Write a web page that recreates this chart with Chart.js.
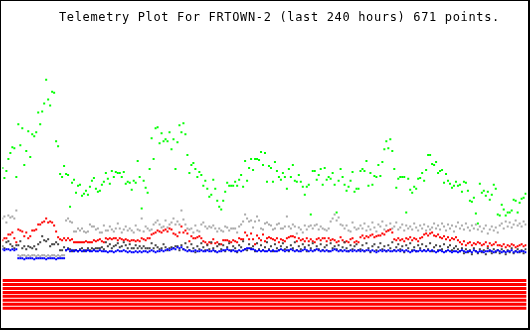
<!DOCTYPE html>
<html>
<head>
<meta charset="utf-8">
<script src="https://cdn.jsdelivr.net/npm/chart.js@4.4.1/dist/chart.umd.min.js"></script>
<style>
  html, body { margin: 0; padding: 0; background: #fff; }
  #frame {
    position: relative;
    width: 527px;
    height: 327px;
    border-style: solid;
    border-color: #000;
    border-width: 1px 2px 2px 1px;
  }
  #title {
    position: absolute;
    left: 58px;
    top: 10px;
    font: 12px "DejaVu Sans Mono", monospace;
    letter-spacing: 0.65px;
    line-height: 12px;
    white-space: nowrap;
    color: #000;
  }
  canvas { display: block; }
</style>
</head>
<body>
<div id="frame">
  <canvas id="chart" width="527" height="327"></canvas>
  <div id="title">Telemetry Plot For FRTOWN-2 (last 240 hours) 671 points.</div>
</div>
<script>
// last 240 hours, one reading slot every 2 px of the plot
const hoursSpan = 240;
const samples = 264;
const hours = Array.from({length: samples}, (_, i) => i * hoursSpan / (samples - 1));

// channel values
const green = [162,152,159,171,177,183,182,153,206,185,
  202,165,179,199,173,196,194,198,218,206,
  219,227,251,231,225,239,238,189,184,156,
  153,164,156,155,123,147,150,137,144,145,
  134,136,139,135,143,149,152,141,138,139,
  145,148,157,151,146,159,153,158,157,157,
  153,158,146,148,147,140,149,147,169,153,
  121,149,142,137,161,192,171,202,203,187,
  197,189,191,189,198,181,191,161,188,205,
  198,207,196,175,157,165,167,161,153,158,
  155,144,149,141,133,135,150,141,129,123,
  120,129,138,147,144,144,144,148,144,150,
  155,143,169,149,162,171,160,171,171,170,
  178,165,177,148,164,162,148,168,159,153,
  150,157,153,141,161,153,165,149,148,155,
  148,143,135,143,145,115,159,159,150,155,
  161,145,162,150,153,151,157,145,117,149,
  161,153,145,139,143,149,158,138,141,141,
  159,161,159,169,144,157,145,154,153,165,
  154,168,181,189,182,191,179,161,142,151,
  153,153,153,117,151,140,137,143,141,151,
  152,157,149,160,175,175,166,165,168,157,
  159,160,147,156,149,146,142,144,148,144,
  145,138,148,147,139,129,128,132,116,106,
  146,137,139,134,138,130,135,145,141,115,
  114,125,120,114,117,117,119,130,129,117,
  127,131,132,136];

const grey = [111,113,107,114,112,113,111,119,
  74,73,74,74,73,74,73,74,74,73,74,73,74,74,73,74,73,74,74,73,74,73,74,74,
  109,111,108,107,98,98,101,99,101,98,
  97,98,105,103,103,100,101,97,97,104,
  99,99,103,100,98,101,106,101,97,100,
  103,99,101,99,97,104,100,99,111,98,
  103,101,99,100,105,107,109,105,102,103,
  109,102,105,107,111,105,108,105,119,110,
  105,101,100,101,97,104,99,98,105,107,
  103,101,103,102,104,101,98,101,99,98,
  103,102,99,101,101,101,97,103,105,108,
  115,111,108,109,102,108,113,109,101,100,
  106,107,105,104,100,101,105,106,101,101,
  103,113,103,101,105,103,96,102,100,97,
  104,100,103,104,101,104,105,100,103,101,
  100,99,101,108,111,115,109,112,105,104,
  101,104,99,98,107,102,100,101,
  104,101,106,99,103,100,107,102,98,105,
  103,108,100,104,99,106,101,103,107,100,
  102,105,99,104,101,103,100,106,102,99,
  104,101,105,99,103,100,102,106,101,104,
  100,106,103,99,105,101,104,98,103,107,
  101,104,100,106,102,99,104,101,105,100,
  103,98,101,104,96,100,103,99,102,97,
  104,106,101,108,103,107,102,105,109,104,
  106,103,108,105];

const red = [89,91,91,95,95,97,91,87,100,99,
  98,93,97,91,93,99,99,100,105,105,
  107,108,111,107,108,107,104,98,92,90,
  89,91,89,91,89,90,87,87,87,87,
  87,87,88,87,87,87,89,88,89,90,
  88,87,91,90,91,90,91,91,89,91,
  90,89,90,89,88,89,89,88,89,88,
  91,90,89,91,91,95,96,97,99,98,
  97,99,100,98,101,100,96,95,93,97,
  103,97,99,96,88,93,91,91,92,93,
  91,88,87,85,87,86,90,86,87,85,
  85,89,89,89,88,87,89,88,87,91,
  90,90,97,94,90,96,90,85,94,91,
  89,95,88,91,92,91,90,89,91,87,
  90,89,88,91,92,93,93,92,88,91,
  89,90,88,91,88,90,88,87,90,91,
  89,91,91,88,91,89,90,89,87,88,
  92,89,87,88,87,90,91,87,88,87,
  92,94,91,93,92,94,95,92,93,94,
  94,96,95,98,99,100,97,90,89,91,
  89,90,88,91,90,92,89,91,90,88,
  91,92,95,96,94,96,97,94,93,95,
  92,91,93,90,92,89,91,90,92,89,
  87,85,88,84,86,87,84,86,85,87,
  86,84,85,87,83,86,84,85,87,84,
  84,83,85,82,84,83,85,84,82,83,
  84,85,83,84];

const darkGrey = [83,81,87,88,85,83,81,84,84,88,
  81,83,80,83,82,81,83,80,85,87,
  93,89,88,90,83,85,85,87,85,79,
  79,82,79,81,80,78,79,79,78,80,
  81,78,79,81,79,81,80,81,81,81,
  82,80,87,83,85,81,83,84,86,82,
  83,87,84,81,85,81,81,84,81,83,
  81,83,81,81,81,86,81,84,82,80,
  81,85,82,79,81,82,81,83,83,79,
  84,80,86,82,79,85,81,77,83,80,
  86,82,79,84,80,87,81,78,83,85,
  80,84,78,82,86,79,83,81,77,84,
  82,88,80,79,85,81,83,78,86,80,
  84,79,82,87,80,83,78,85,81,79,
  83,86,80,82,78,84,81,87,79,83,
  80,85,82,78,84,81,86,79,83,80,
  85,79,82,84,78,86,81,83,80,84,
  79,82,87,81,78,84,80,83,85,79,
  80,84,78,86,81,77,83,85,79,82,
  86,80,83,78,84,81,87,79,82,85,
  80,83,77,84,81,86,79,82,78,84,
  81,85,79,83,80,86,78,82,84,79,
  83,80,85,78,82,84,79,81,83,80,
  78,81,76,80,77,79,75,81,78,76,
  80,77,79,75,81,78,76,80,77,79,
  76,80,78,75,79,77,81,76,78,80,
  77,79,76,80];

const blue = [80,79,80,80,79,80,79,80,
  71,71,71,70,71,71,71,71,70,71,71,71,71,71,70,71,71,71,71,70,71,71,71,71,
  79,80,78,79,78,79,78,79,78,79,
  78,79,78,78,79,78,78,79,78,78,
  78,77,78,78,77,78,79,78,78,79,
  78,77,78,77,77,78,77,78,77,78,
  78,77,78,79,78,77,78,78,79,78,
  79,80,79,80,81,80,82,81,82,80,
  79,78,79,78,78,79,78,78,79,78,
  78,79,78,78,79,78,77,78,78,79,
  79,80,79,78,79,78,78,79,78,79,
  80,81,81,80,80,79,78,79,78,79,
  78,78,79,78,79,78,78,79,80,79,
  78,79,79,80,79,78,79,78,78,79,
  80,79,78,79,78,79,80,79,78,79,
  78,79,78,78,79,80,79,78,79,78,
  79,78,78,79,78,79,78,79,78,79,
  78,79,79,78,79,78,77,78,79,78,
  79,78,79,78,78,79,78,79,78,79,
  78,79,78,77,78,79,78,78,79,78,
  79,78,79,78,79,78,77,78,79,78,
  77,78,79,78,77,78,78,77,78,79,
  78,77,78,78,77,79,78,77,78,78,
  77,78,78,79,78,77,78,79,78,77,
  78,77,78,78,79,77,78,77,78,78,
  78,77];

// eight status bits, all set, drawn as bars along the bottom
const bitRows = [48.5, 44.5, 40.5, 36.5, 32.5, 28.5, 24.5, 20.5];

const xMax = hoursSpan * 527 / 526;

function dots(values, colour, order) {
  return {
    data: values.map((v, i) => ({x: hours[i], y: v})),
    backgroundColor: colour,
    pointStyle: 'rect',
    pointRadius: Math.SQRT2,
    pointBorderWidth: 0,
    pointHoverRadius: Math.SQRT2,
    order: order
  };
}

const bitSets = bitRows.map(level => ({
  data: [{x: 0, y: level}, {x: xMax, y: level}],
  showLine: true,
  borderColor: '#ff0000',
  borderWidth: 3,
  borderCapStyle: 'butt',
  pointRadius: 0,
  pointHoverRadius: 0,
  order: 6
}));

new Chart(document.getElementById('chart'), {
  type: 'scatter',
  data: {
    datasets: [
      dots(blue, '#0000ff', 1),
      dots(darkGrey, '#404040', 2),
      dots(red, '#ff0000', 3),
      dots(grey, '#a8a8a8', 4),
      dots(green, '#00ff00', 5)
    ].concat(bitSets)
  },
  options: {
    responsive: false,
    animation: false,
    devicePixelRatio: 1,
    events: [],
    layout: { padding: 0 },
    plugins: {
      legend: { display: false },
      tooltip: { enabled: false },
      title: { display: false }
    },
    scales: {
      x: { type: 'linear', display: false, min: 0, max: xMax },
      y: { type: 'linear', display: false, min: 2, max: 329 }
    }
  }
});
</script>
</body>
</html>
